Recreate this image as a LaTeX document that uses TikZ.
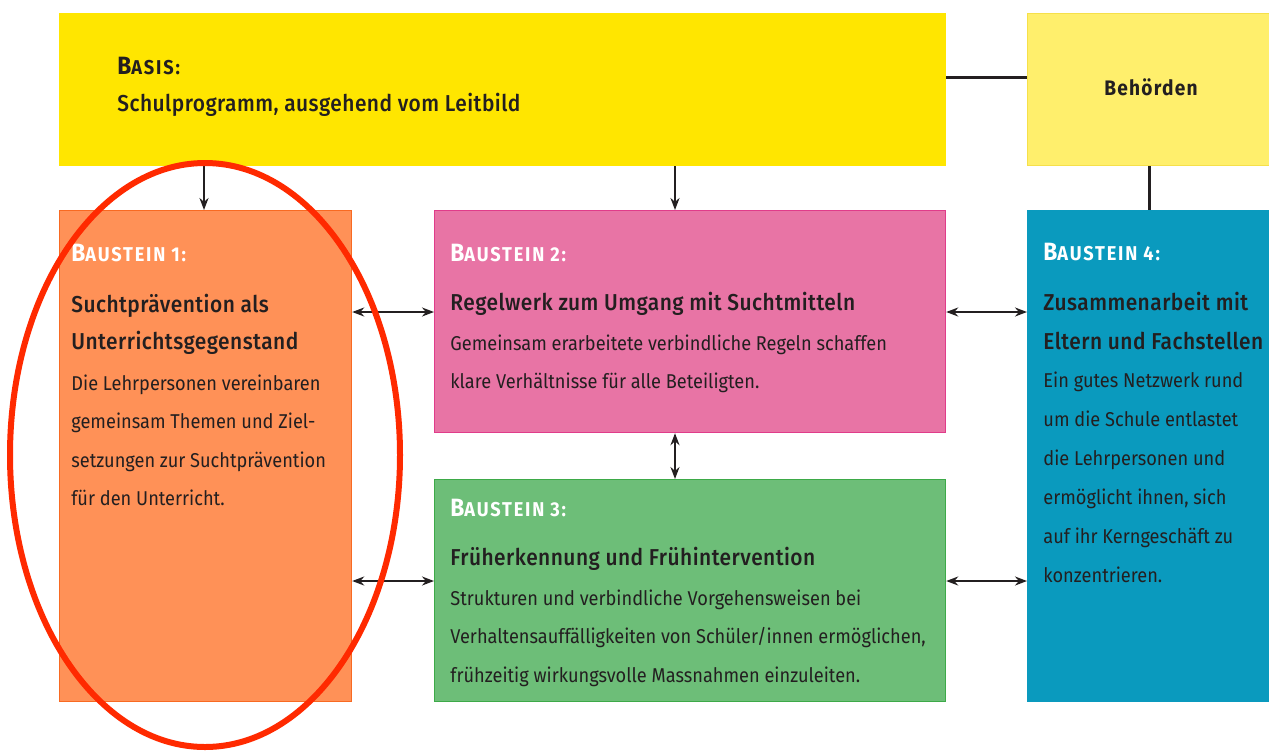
\documentclass[tikz,border=0pt]{standalone}
\usepackage{fontspec}
\setmainfont{Fira Sans}[FakeStretch=0.91]
\newfontfamily\medfont{Fira Sans}[UprightFont=* Medium, FakeStretch=0.91, LetterSpace=2]
\usetikzlibrary{arrows.meta}

\definecolor{basisyellow}{HTML}{FFE600}
\definecolor{lightyellow}{HTML}{FFEF6C}
\definecolor{lightyellowline}{HTML}{F6E04A}
\definecolor{orangefill}{HTML}{FF9157}
\definecolor{orangeline}{HTML}{F86A22}
\definecolor{pinkfill}{HTML}{E874A5}
\definecolor{pinkline}{HTML}{E03C8A}
\definecolor{greenfill}{HTML}{6DBE78}
\definecolor{greenline}{HTML}{3DAA48}
\definecolor{bluefill}{HTML}{0A9ABE}
\definecolor{markred}{HTML}{FF2A00}
\definecolor{ink}{HTML}{231F20}

% Small-caps style heading "Baustein n:"
\newcommand{\capshead}[2]{{\fontsize{12.5}{12}\selectfont\bfseries\addfontfeatures{LetterSpace=6}#1}{\fontsize{10}{12}\selectfont\bfseries\addfontfeatures{LetterSpace=9}#2}}

\tikzset{
  box/.style={draw, line width=0.6pt, inner sep=0pt, anchor=north west},
  bodytext/.style={inner sep=0pt, anchor=base west, text=ink, font=\fontsize{10}{12}\selectfont},
  headtext/.style={inner sep=0pt, anchor=base west, text=ink, font=\medfont\fontsize{11.5}{13}\selectfont},
  titletext/.style={inner sep=0pt, anchor=base west, text=white},
  link/.style={line width=1pt, draw=ink},
  thicklink/.style={line width=1.5pt, draw=ink},
  arr/.style={link, -{Stealth[length=6pt,width=4.5pt]}},
  darr/.style={link, {Stealth[length=6pt,width=4.5pt]}-{Stealth[length=6pt,width=4.5pt]}},
}

\begin{document}
\begin{tikzpicture}[x=0.5pt,y=-0.5pt]
\useasboundingbox (0,0) rectangle (1269,751);
\fill[white] (0,0) rectangle (1269,751);

% boxes
\node[box, draw=basisyellow, fill=basisyellow, minimum width=443pt, minimum height=76pt] (basis) at (59,13) {};
\node[box, draw=lightyellowline, fill=lightyellow, minimum width=121pt, minimum height=76pt] (beh) at (1027,13) {};
\node[box, draw=orangeline, fill=orangefill, minimum width=146pt, minimum height=245.5pt] (b1) at (59,210) {};
\node[box, draw=pinkline, fill=pinkfill, minimum width=255.5pt, minimum height=111pt] (b2) at (434,210) {};
\node[box, draw=greenline, fill=greenfill, minimum width=255.5pt, minimum height=111pt] (b3) at (434,479) {};
\node[box, draw=bluefill, fill=bluefill, minimum width=121pt, minimum height=245.5pt] (b4) at (1027,210) {};

% connectors
\coordinate (xa) at (204,0);
\coordinate (xb) at (675,0);
\coordinate (xc) at (1149,0);
\coordinate (ya) at (0,77);
\coordinate (yb) at (0,312);
\coordinate (yc) at (0,581);
\draw[thicklink] (basis.east |- ya) -- (beh.west |- ya);
\draw[thicklink] (beh.south -| xc) -- (b4.north -| xc);
\draw[arr] (basis.south -| xa) -- (b1.north -| xa);
\draw[arr] (basis.south -| xb) -- (b2.north -| xb);
\draw[darr] (b1.east |- yb) -- (b2.west |- yb);
\draw[darr] (b2.east |- yb) -- (b4.west |- yb);
\draw[darr] (b1.east |- yc) -- (b3.west |- yc);
\draw[darr] (b3.east |- yc) -- (b4.west |- yc);
\draw[darr] (b2.south -| xb) -- (b3.north -| xb);

% Basis
\node[inner sep=0pt, anchor=base west, text=ink] (basist) at (117,74) {\capshead{B}{ASIS:}};
\node[headtext] (basish) at (117,111) {Schulprogramm, ausgehend vom Leitbild};
\node[inner sep=0pt, anchor=base, text=ink, font=\bfseries\fontsize{10.5}{12}\selectfont\addfontfeatures{LetterSpace=6}] (beht) at (1151,95) {Behörden};

% Baustein 1
\node[titletext] (b1t) at (71,261) {\capshead{B}{AUSTEIN 1:}};
\foreach \t [count=\i] in {Suchtprävention als, Unterrichtsgegenstand}
  \node[headtext] (b1h\i) at (71,{312+37.5*(\i-1)}) {\t};
\foreach \t [count=\i] in {Die Lehrpersonen vereinbaren, gemeinsam Themen und Ziel-, setzungen zur Suchtprävention, für den Unterricht.}
  \node[bodytext] (b1b\i) at (71,{390+38.5*(\i-1)}) {\t};

% Baustein 2
\node[titletext] (b2t) at (450,261) {\capshead{B}{AUSTEIN 2:}};
\node[headtext] (b2h) at (450,310) {Regelwerk zum Umgang mit Suchtmitteln};
\foreach \t [count=\i] in {Gemeinsam erarbeitete verbindliche Regeln schaffen, klare Verhältnisse für alle Beteiligten.}
  \node[bodytext] (b2b\i) at (450,{350+38*(\i-1)}) {\t};

% Baustein 3
\node[titletext] (b3t) at (450,516) {\capshead{B}{AUSTEIN 3:}};
\node[headtext] (b3h) at (450,565) {Früherkennung und Frühintervention};
\foreach \t [count=\i] in {Strukturen und verbindliche Vorgehensweisen bei, {Verhaltensauffälligkeiten von Schüler/innen ermöglichen,}, frühzeitig wirkungsvolle Massnahmen einzuleiten.}
  \node[bodytext] (b3b\i) at (450,{605+38.5*(\i-1)}) {\t};

% Baustein 4
\node[titletext] (b4t) at (1043,260) {\capshead{B}{AUSTEIN 4:}};
\foreach \t [count=\i] in {Zusammenarbeit mit, Eltern und Fachstellen}
  \node[headtext] (b4h\i) at (1043,{310+39*(\i-1)}) {\t};
\foreach \t [count=\i] in {Ein gutes Netzwerk rund, um die Schule entlastet, die Lehrpersonen und, {ermöglicht ihnen, sich}, auf ihr Kerngeschäft zu, konzentrieren.}
  \node[bodytext] (b4b\i) at (1043,{387+39*(\i-1)}) {\t};

% highlight ring
\draw[markred, line width=3pt] (205,455) ellipse [x radius=195, y radius=292];
\end{tikzpicture}
\end{document}
